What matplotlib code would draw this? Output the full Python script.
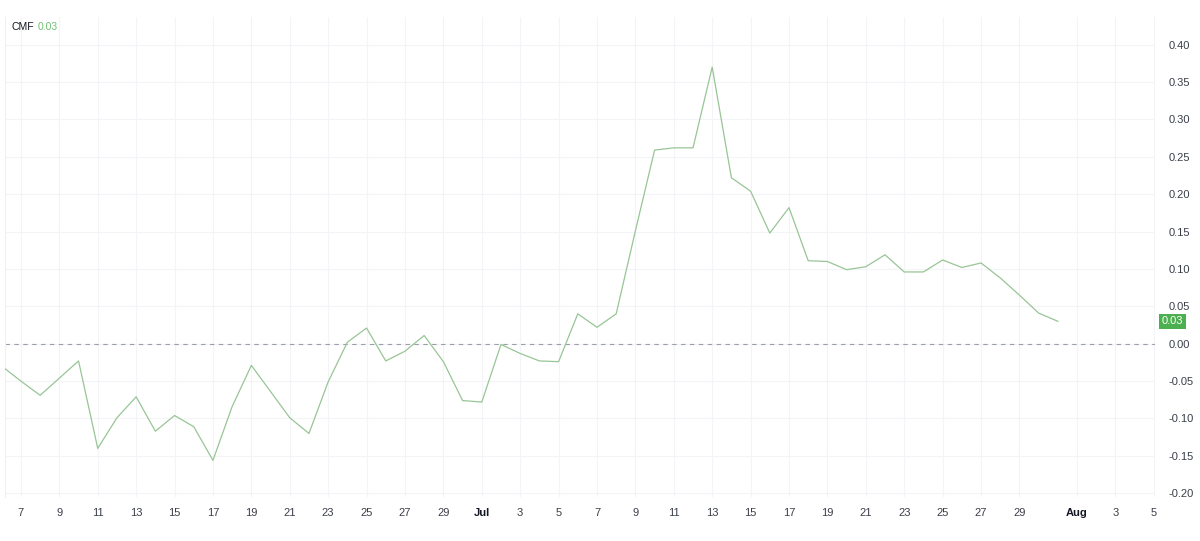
import numpy as np
import matplotlib
matplotlib.use("Agg")
import matplotlib.pyplot as plt
import matplotlib.dates as mdates

# daily CMF values, 6 Jun .. 31 Jul
start = np.datetime64("2024-06-06")
cmf = [
    -0.030, -0.050, -0.069, -0.046, -0.023, -0.140, -0.099, -0.071, -0.117, -0.096,
    -0.111, -0.156, -0.084, -0.029, -0.064, -0.099, -0.120, -0.051, 0.002, 0.021,
    -0.023, -0.010, 0.011, -0.024, -0.076, -0.078, -0.001, -0.013, -0.023, -0.024,
    0.040, 0.022, 0.040, 0.151, 0.259, 0.262, 0.262, 0.370, 0.222, 0.204,
    0.148, 0.182, 0.111, 0.110, 0.099, 0.103, 0.119, 0.096, 0.096, 0.112,
    0.102, 0.108, 0.088, 0.065, 0.041, 0.030,
]
dates = start + np.arange(len(cmf))

tick_dates = ["2024-06-07", "2024-06-09", "2024-06-11", "2024-06-13", "2024-06-15",
              "2024-06-17", "2024-06-19", "2024-06-21", "2024-06-23", "2024-06-25",
              "2024-06-27", "2024-06-29", "2024-07-01", "2024-07-03", "2024-07-05",
              "2024-07-07", "2024-07-09", "2024-07-11", "2024-07-13", "2024-07-15",
              "2024-07-17", "2024-07-19", "2024-07-21", "2024-07-23", "2024-07-25",
              "2024-07-27", "2024-07-29", "2024-08-01", "2024-08-03", "2024-08-05"]
tick_labels = ["7", "9", "11", "13", "15", "17", "19", "21", "23", "25", "27", "29",
               "Jul", "3", "5", "7", "9", "11", "13", "15", "17", "19", "21", "23",
               "25", "27", "29", "Aug", "3", "5"]
y_ticks = [0.40, 0.35, 0.30, 0.25, 0.20, 0.15, 0.10, 0.05, 0.00,
           -0.05, -0.10, -0.15, -0.20]

plt.rcParams['font.family'] = ['Liberation Sans', 'DejaVu Sans']

fig = plt.figure(figsize=(12, 5.41), dpi=100)
W, H = 1200, 541
ax = fig.add_axes([5 / W, 1 - 497 / H, (1155 - 5) / W, (497 - 17) / H])

td = np.array(tick_dates, dtype="datetime64[D]")
x0 = mdates.date2num(np.datetime64("2024-07-01"))
ax.set_xlim(x0 - 24.83, x0 + 35.06)
ax.set_ylim(-0.205, 0.437)

ax.plot(dates, cmf, color="#98c596", lw=0.9, zorder=3)
ax.axhline(0, color="#9a9ea8", lw=0.8, ls=(0, (4, 4)), zorder=2)

for d in td:
    ax.axvline(d, color="#f3f4f7", lw=0.8, zorder=0)
for y in y_ticks:
    ax.axhline(y, color="#f3f4f7", lw=0.8, zorder=0)

ax.set_xticks(td)
ax.set_xticklabels(tick_labels)
for lab, txt in zip(ax.get_xticklabels(), tick_labels):
    lab.set_color("#131722" if txt in ("Jul", "Aug") else "#3a3e48")
    if txt in ("Jul", "Aug"):
        lab.set_fontweight("bold")
ax.tick_params(axis="x", length=0, pad=8, labelsize=8)

ax.yaxis.tick_right()
ax.set_yticks(y_ticks)
ax.set_yticklabels([f"{v:.2f}" for v in y_ticks])
ax.tick_params(axis="y", length=0, pad=10, labelsize=8, labelcolor="#3a3e48")

for s in ax.spines.values():
    s.set_visible(False)
ax.spines["left"].set_visible(True)
ax.spines["left"].set_color("#f0f1f4")

# last value tag
ax.text(1.0 + 7 / (1155 - 5), cmf[-1], f"{cmf[-1]:.2f}",
        transform=ax.get_yaxis_transform(), ha="left", va="center",
        fontsize=8, color="white",
        bbox=dict(boxstyle="square,pad=0.25", fc="#4caf50", ec="none"))

fig.text(12 / W, 1 - 27 / H, "CMF", fontsize=7.5, color="#131722", va="center")
fig.text(38 / W, 1 - 27 / H, f"{cmf[-1]:.2f}", fontsize=7.5, color="#6fbf73", va="center")

fig.savefig("out.png", dpi=100, facecolor="white")
